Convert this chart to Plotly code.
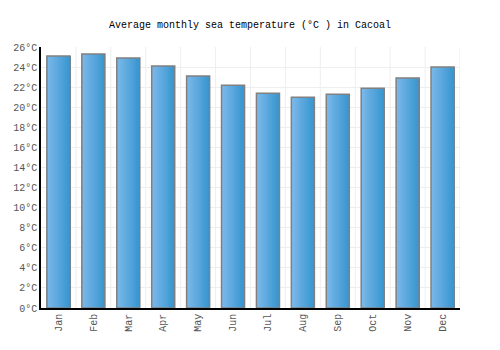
import plotly.graph_objects as go

months = ["Jan", "Feb", "Mar", "Apr", "May", "Jun", "Jul", "Aug", "Sep", "Oct", "Nov", "Dec"]
temps = [25.1, 25.3, 24.9, 24.1, 23.1, 22.2, 21.4, 21.0, 21.3, 21.9, 22.9, 24.0]
y_ticks = list(range(0, 27, 2))
y_tick_labels = [f"{v}°C" for v in y_ticks]

BAR_W = 0.66
N = 24
c0 = (125, 185, 234)
c1 = (56, 150, 208)

fig = go.Figure()
xi = list(range(len(months)))
sw = BAR_W / N
for k in range(N):
    t = k / (N - 1)
    col = "rgb(%d,%d,%d)" % tuple(round(a + (b - a) * t) for a, b in zip(c0, c1))
    fig.add_trace(go.Bar(
        x=xi, y=temps, width=sw * 1.15, offset=-BAR_W / 2 + k * sw,
        marker=dict(color=col, line=dict(width=0)), hoverinfo="skip", showlegend=False))
# outline
fig.add_trace(go.Bar(
    x=xi, y=temps, width=BAR_W, offset=-BAR_W / 2,
    marker=dict(color="rgba(0,0,0,0)", line=dict(color="#808080", width=1.5)),
    showlegend=False, name="Temperature"))

fig.update_layout(
    width=500, height=350,
    margin=dict(l=41, r=40, t=47, b=42),
    barmode="overlay",
    paper_bgcolor="white", plot_bgcolor="white",
    font=dict(family="Liberation Mono", size=10, color="#555555"),
    title=dict(text="Average monthly sea temperature (°C ) in Cacoal", x=0.5, xanchor="center",
               y=0.93, yanchor="middle", font=dict(family="Liberation Mono", size=10, color="#000000")),
    xaxis=dict(
        range=[-0.5, 11.5], tickmode="array", tickvals=xi, ticktext=months, tickangle=-90,
        showgrid=False, showline=True, linecolor="#000000", linewidth=1.5,
        ticks="", zeroline=False, fixedrange=True),
    yaxis=dict(
        range=[0, 26], tickmode="array", tickvals=y_ticks, ticktext=y_tick_labels,
        showgrid=True, gridcolor="#eeeeee", gridwidth=1,
        showline=True, linecolor="#000000", linewidth=1.5, ticks="", zeroline=False, fixedrange=True),
)
# vertical gridlines at category boundaries
for i in range(len(months)):
    fig.add_shape(type="line", xref="x", yref="paper", x0=i + 0.5, x1=i + 0.5, y0=0, y1=1,
                  line=dict(color="#eeeeee", width=1), layer="below")
fig.write_html("out.html")
